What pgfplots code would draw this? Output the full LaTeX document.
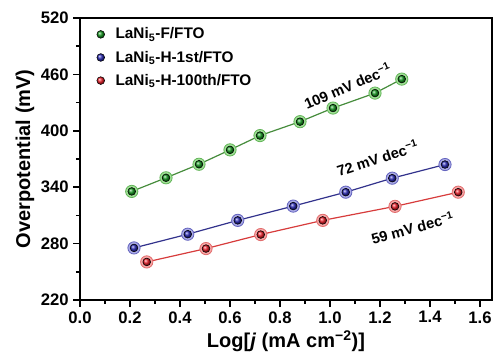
\documentclass[border=0pt]{standalone}
\usepackage{pgfplots}
\pgfplotsset{compat=1.18}
\usepackage{fontspec}
\setmainfont{Liberation Sans}
\definecolor{gline}{RGB}{70,140,60}
\definecolor{gball}{RGB}{20,150,30}
\definecolor{ghalo}{RGB}{160,225,150}
\definecolor{gedge}{RGB}{100,180,90}
\definecolor{bline}{RGB}{50,50,140}
\definecolor{bball}{RGB}{40,40,180}
\definecolor{bhalo}{RGB}{170,170,230}
\definecolor{bedge}{RGB}{100,100,190}
\definecolor{rline}{RGB}{215,60,60}
\definecolor{rball}{RGB}{235,30,40}
\definecolor{rhalo}{RGB}{248,165,165}
\definecolor{redge}{RGB}{225,110,110}
\begin{document}
\begin{tikzpicture}
\begin{axis}[name=ax, scale only axis, width=309pt, height=211.5pt,
 xmin=0, xmax=1.648, ymin=220, ymax=520,
 xtick={0,0.2,0.4,0.6,0.8,1.0,1.2,1.4,1.6}, ytick={220,280,340,400,460,520},
 minor x tick num=1, minor y tick num=1,
 axis line style={line width=1.5pt},
 tick style={line width=1.2pt, black},
 major tick length=5pt, minor tick length=3pt,
 tick align=outside, xtick pos=bottom, ytick pos=left,
 /pgf/number format/assume math mode=true,
 xticklabel style={/pgf/number format/fixed, /pgf/number format/fixed zerofill, /pgf/number format/precision=1},
 ticklabel style={font=\bfseries\fontsize{12.5}{14}\selectfont},
 xlabel={Log[\textit{j} (mA cm\textsuperscript{−2})]},
 ylabel={Overpotential (mV)},
 label style={font=\bfseries\fontsize{15}{17}\selectfont},
 ylabel style={yshift=-2pt},
 xlabel style={yshift=1pt},
 legend style={at={(0.03,0.985)}, anchor=north west, draw=none, fill=none,
   font=\bfseries\fontsize{11.5}{13}\selectfont, row sep=3.5pt,
   /tikz/every odd column/.append style={column sep=6pt}},
 legend cell align=left,
]
% green
\addplot[gline, line width=0.9pt, mark=*, mark size=4.6pt, mark options={fill=ghalo, draw=gedge, line width=0.6pt}, forget plot] coordinates {
(0.207,335.5)(0.344,350)(0.476,364.4)(0.60,379.7)(0.72,394.9)(0.88,409.7)(1.012,424.2)(1.18,440.1)(1.287,455)};
\addplot[only marks, mark=ball, mark size=2.9pt, mark options={ball color=gball}] coordinates {
(0.207,335.5)(0.344,350)(0.476,364.4)(0.60,379.7)(0.72,394.9)(0.88,409.7)(1.012,424.2)(1.18,440.1)(1.287,455)};
\addlegendentry{LaNi\textsubscript{5}-F/FTO}
% blue
\addplot[bline, line width=0.9pt, mark=*, mark size=4.6pt, mark options={fill=bhalo, draw=bedge, line width=0.6pt}, forget plot] coordinates {
(0.216,275.4)(0.431,290)(0.631,304.7)(0.853,319.9)(1.063,334.7)(1.249,349.6)(1.46,364.1)};
\addplot[only marks, mark=ball, mark size=2.9pt, mark options={ball color=bball}] coordinates {
(0.216,275.4)(0.431,290)(0.631,304.7)(0.853,319.9)(1.063,334.7)(1.249,349.6)(1.46,364.1)};
\addlegendentry{LaNi\textsubscript{5}-H-1st/FTO}
% red
\addplot[rline, line width=0.9pt, mark=*, mark size=4.6pt, mark options={fill=rhalo, draw=redge, line width=0.6pt}, forget plot] coordinates {
(0.267,260.5)(0.504,274.7)(0.723,289.6)(0.971,304.7)(1.26,319.6)(1.513,334.7)};
\addplot[only marks, mark=ball, mark size=2.9pt, mark options={ball color=rball}] coordinates {
(0.267,260.5)(0.504,274.7)(0.723,289.6)(0.971,304.7)(1.26,319.6)(1.513,334.7)};
\addlegendentry{LaNi\textsubscript{5}-H-100th/FTO}
\node[rotate=23, font=\bfseries\fontsize{11}{13}\selectfont] at (axis cs:1.07,448) {109 mV dec\textsuperscript{−1}};
\node[rotate=18, font=\bfseries\fontsize{11}{13}\selectfont] at (axis cs:1.19,371) {72 mV dec\textsuperscript{−1}};
\node[rotate=15, font=\bfseries\fontsize{11}{13}\selectfont] at (axis cs:1.33,297) {59 mV dec\textsuperscript{−1}};
\end{axis}
\pgfresetboundingbox
\path[use as bounding box] ([shift={(-60pt,-43.5pt)}]ax.south west) rectangle ([shift={(4.5pt,13.5pt)}]ax.north east);
\end{tikzpicture}
\end{document}
